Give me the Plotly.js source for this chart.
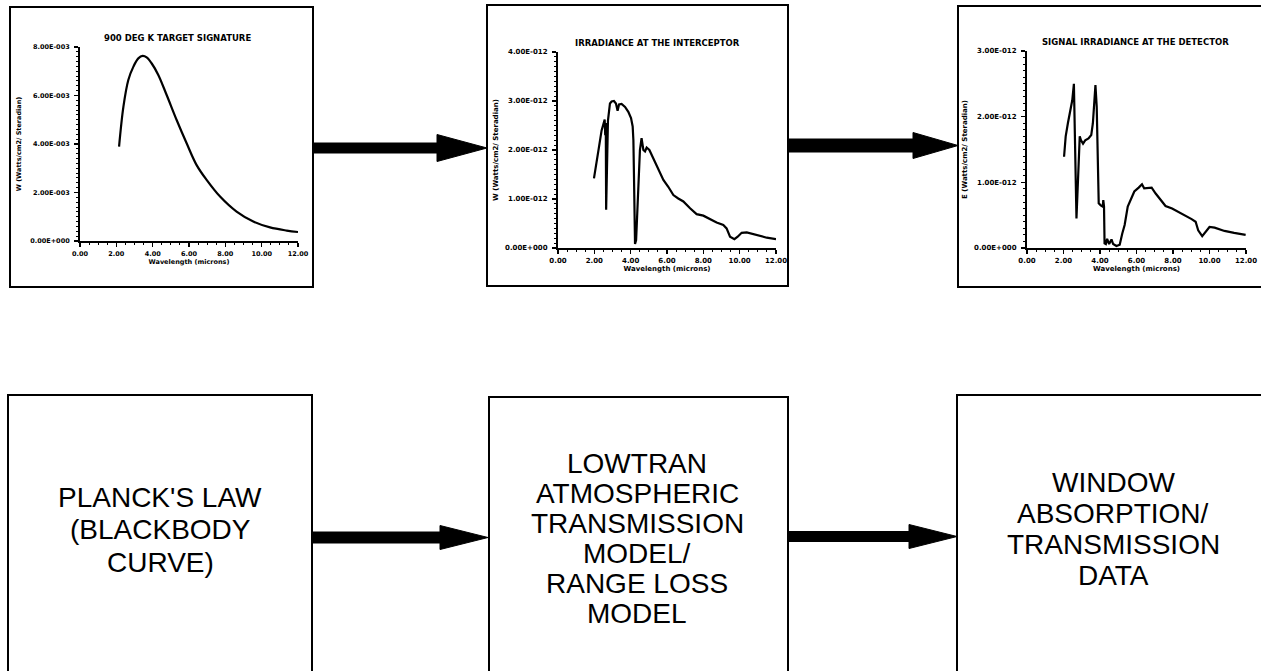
<!DOCTYPE html>
<html>
<head>
<meta charset="utf-8">
<script src="https://cdn.plot.ly/plotly-3.0.1.min.js"></script>
<style>html,body{margin:0;padding:0;background:#fff;}#chart{width:1261px;height:671px;}</style>
</head>
<body>
<div id="chart"></div>
<script>
// ---------------- data ----------------
const chartTitles = ["900 DEG K TARGET SIGNATURE", "IRRADIANCE AT THE INTERCEPTOR", "SIGNAL IRRADIANCE AT THE DETECTOR"];
const xTitle = "Wavelength (microns)";
const yTitles = ["W (Watts/cm2/ Steradian)", "W (Watts/cm2/ Steradian)", "E (Watts/cm2/ Steradian)"];

const xTickVals = [0, 2, 4, 6, 8, 10, 12];
const xTickText = ["0.00", "2.00", "4.00", "6.00", "8.00", "10.00", "12.00"];

const y1TickVals = [0, 2e-3, 4e-3, 6e-3, 8e-3];
const y1TickText = ["0.00E+000", "2.00E-003", "4.00E-003", "6.00E-003", "8.00E-003"];
const y2TickVals = [0, 1e-12, 2e-12, 3e-12, 4e-12];
const y2TickText = ["0.00E+000", "1.00E-012", "2.00E-012", "3.00E-012", "4.00E-012"];
const y3TickVals = [0, 1e-12, 2e-12, 3e-12];
const y3TickText = ["0.00E+000", "1.00E-012", "2.00E-012", "3.00E-012"];

// 900 K target signature
const wl1 = [2.15, 2.39, 2.66, 2.94, 3.21, 3.45, 3.67, 3.94, 4.31, 4.77, 5.32, 5.87, 6.42, 6.97, 7.71, 8.62, 9.54, 10.46, 11.38, 12.0];
const sig1 = [3.89e-3, 5.54e-3, 6.64e-3, 7.19e-3, 7.53e-3, 7.63e-3, 7.57e-3, 7.33e-3, 6.85e-3, 6.02e-3, 4.99e-3, 4.03e-3, 3.13e-3, 2.52e-3, 1.83e-3, 1.21e-3, 0.80e-3, 0.56e-3, 0.43e-3, 0.37e-3];

// irradiance at the interceptor
const wl2 = [1.98, 2.1, 2.25, 2.4, 2.52, 2.57, 2.6, 2.63, 2.65, 2.75, 2.86, 2.95, 3.08, 3.19, 3.28, 3.36, 3.5, 3.69, 3.87, 4.02, 4.11, 4.15, 4.18, 4.2, 4.24, 4.3, 4.37, 4.44, 4.51, 4.6, 4.7, 4.79, 4.88, 5.03, 5.25, 5.52, 5.8, 6.07, 6.35, 6.62, 6.9, 7.27, 7.63, 8.0, 8.37, 8.73, 9.1, 9.28, 9.47, 9.71, 9.89, 10.11, 10.39, 10.94, 11.49, 12.0];
const irr2 = [1.42e-12, 1.75e-12, 2.05e-12, 2.4e-12, 2.58e-12, 2.62e-12, 2.3e-12, 2.55e-12, 0.78e-12, 2.6e-12, 2.95e-12, 2.99e-12, 3.0e-12, 2.95e-12, 2.80e-12, 2.93e-12, 2.94e-12, 2.88e-12, 2.78e-12, 2.65e-12, 2.48e-12, 2.2e-12, 1.52e-12, 0.44e-12, 0.08e-12, 0.16e-12, 0.84e-12, 1.66e-12, 2.0e-12, 2.24e-12, 2.0e-12, 1.97e-12, 2.05e-12, 2.0e-12, 1.83e-12, 1.59e-12, 1.39e-12, 1.25e-12, 1.08e-12, 1.01e-12, 0.95e-12, 0.81e-12, 0.69e-12, 0.66e-12, 0.59e-12, 0.52e-12, 0.47e-12, 0.40e-12, 0.23e-12, 0.18e-12, 0.23e-12, 0.31e-12, 0.32e-12, 0.27e-12, 0.21e-12, 0.18e-12];

// signal irradiance at the detector
const wl3 = [2.03, 2.12, 2.24, 2.39, 2.48, 2.57, 2.65, 2.71, 2.89, 2.96, 3.07, 3.19, 3.37, 3.52, 3.61, 3.68, 3.75, 3.82, 3.87, 3.93, 4.04, 4.15, 4.18, 4.22, 4.25, 4.32, 4.39, 4.5, 4.63, 4.72, 4.9, 5.08, 5.22, 5.35, 5.52, 5.7, 5.88, 6.12, 6.3, 6.42, 6.6, 6.83, 7.05, 7.32, 7.59, 7.95, 8.3, 8.66, 9.02, 9.24, 9.38, 9.6, 9.78, 10.0, 10.28, 10.82, 11.35, 11.98];
const det3 = [1.39e-12, 1.70e-12, 1.90e-12, 2.10e-12, 2.25e-12, 2.50e-12, 1.29e-12, 0.45e-12, 1.70e-12, 1.64e-12, 1.59e-12, 1.64e-12, 1.67e-12, 1.72e-12, 1.90e-12, 2.15e-12, 2.48e-12, 2.15e-12, 1.39e-12, 0.68e-12, 0.65e-12, 0.63e-12, 0.73e-12, 0.63e-12, 0.07e-12, 0.06e-12, 0.14e-12, 0.06e-12, 0.13e-12, 0.06e-12, 0.03e-12, 0.05e-12, 0.22e-12, 0.35e-12, 0.63e-12, 0.76e-12, 0.86e-12, 0.92e-12, 0.97e-12, 0.91e-12, 0.91e-12, 0.92e-12, 0.83e-12, 0.73e-12, 0.64e-12, 0.60e-12, 0.55e-12, 0.49e-12, 0.44e-12, 0.40e-12, 0.27e-12, 0.18e-12, 0.24e-12, 0.32e-12, 0.31e-12, 0.26e-12, 0.23e-12, 0.20e-12];

// block-diagram labels
const boxLabelsA = ["PLANCK'S LAW", "(BLACKBODY", "CURVE)"];
const boxLabelsB = ["LOWTRAN", "ATMOSPHERIC", "TRANSMISSION", "MODEL/", "RANGE LOSS", "MODEL"];
const boxLabelsC = ["WINDOW", "ABSORPTION/", "TRANSMISSION", "DATA"];

// ---------------- layout helpers ----------------
const W = 1261, H = 671;
const px = x => x / W;
const py = y => 1 - y / H;
const BLACK = "#000";
const smallFont = size => ({family: "DejaVu Sans", size: size, color: BLACK, weight: "bold"});

function xAxis(x0, x1, anchor, fs) {
  return {
    domain: [px(x0), px(x1)], anchor: anchor, range: [0, 12],
    tickmode: "array", tickvals: xTickVals, ticktext: xTickText,
    showline: true, linecolor: BLACK, linewidth: 2, mirror: false,
    ticks: "outside", ticklen: 4, tickwidth: 1.5, tickcolor: BLACK,
    minor: {ticks: "outside", ticklen: 2, tickwidth: 1, tickcolor: BLACK, dtick: 0.5},
    showgrid: false, zeroline: false, fixedrange: true,
    tickfont: smallFont(fs), ticklabelstandoff: 1, ticklabeloverflow: "allow",
    title: {text: xTitle, font: smallFont(fs), standoff: 2}
  };
}
function yAxis(y0, y1, anchor, rmax, tv, tt, fs, standoff) {
  return {
    domain: [py(y0), py(y1)], anchor: anchor, range: [0, rmax],
    tickmode: "array", tickvals: tv, ticktext: tt,
    showline: true, linecolor: BLACK, linewidth: 2,
    ticks: "outside", ticklen: 4, tickwidth: 1.5, tickcolor: BLACK,
    minor: {ticks: "outside", ticklen: 2, tickwidth: 1, tickcolor: BLACK, dtick: tv[1] / 10},
    showgrid: false, zeroline: false, fixedrange: true,
    tickfont: smallFont(fs), ticklabelstandoff: 3, ticklabeloverflow: "allow",
    title: {text: "", font: smallFont(fs), standoff: standoff}
  };
}

const traces = [
  {x: wl1, y: sig1, xaxis: "x", yaxis: "y", type: "scatter", mode: "lines",
   line: {color: BLACK, width: 2.2, shape: "spline", smoothing: 1}, hoverinfo: "skip"},
  {x: wl2, y: irr2, xaxis: "x2", yaxis: "y2", type: "scatter", mode: "lines",
   line: {color: BLACK, width: 2.2}, hoverinfo: "skip"},
  {x: wl3, y: det3, xaxis: "x3", yaxis: "y3", type: "scatter", mode: "lines",
   line: {color: BLACK, width: 2.2}, hoverinfo: "skip", cliponaxis: false}
];

const ya1 = yAxis(241, 47, "x", 8e-3, y1TickVals, y1TickText, 6.5, 8);
ya1.title.text = yTitles[0];
const ya2 = yAxis(248, 52, "x2", 4e-12, y2TickVals, y2TickText, 7, 6);
ya2.title.text = yTitles[1];
const ya3 = yAxis(248, 51, "x3", 3e-12, y3TickVals, y3TickText, 7, 6);
ya3.title.text = yTitles[2];

// frames and arrows (pixel geometry -> paper)
function rect(x0, y0, x1, y1, w) {
  return {type: "rect", xref: "paper", yref: "paper", x0: px(x0), x1: px(x1), y0: py(y1), y1: py(y0),
          line: {color: BLACK, width: w}, fillcolor: "rgba(0,0,0,0)", layer: "above"};
}
function arrow(xs, xb, xt, yc, half, headHalf) {
  const d = "M" + px(xs) + "," + py(yc - half) + " L" + px(xb) + "," + py(yc - half) +
            " L" + px(xb) + "," + py(yc - headHalf) + " L" + px(xt) + "," + py(yc) +
            " L" + px(xb) + "," + py(yc + headHalf) + " L" + px(xb) + "," + py(yc + half) +
            " L" + px(xs) + "," + py(yc + half) + " Z";
  return {type: "path", xref: "paper", yref: "paper", path: d, fillcolor: BLACK,
          line: {color: BLACK, width: 1}, layer: "above"};
}

const shapes = [
  rect(10, 7, 313, 287, 2), rect(487, 5, 788, 286, 2), rect(958, 6, 1264, 287, 2),
  rect(8, 395, 312, 680, 2), rect(489, 397, 788, 680, 2), rect(957, 395, 1264, 680, 2),
  arrow(313, 437, 487, 148, 5, 13.5),
  arrow(788, 913, 958, 145.5, 6.5, 13),
  arrow(312, 440, 488, 537.5, 5.5, 12),
  arrow(788, 909, 957, 536.5, 5, 12)
];

const annotations = [];
function title(text, xc, yc, fs) {
  annotations.push({text: text, xref: "paper", yref: "paper", x: px(xc), y: py(yc),
    xanchor: "center", yanchor: "middle", showarrow: false, font: smallFont(fs)});
}
title(chartTitles[0], 177, 38, 8.5);
title(chartTitles[1], 657, 43, 8.5);
title(chartTitles[2], 1135, 42, 8.5);

function block(lines, xc, yFirst, step) {
  lines.forEach((t, i) => annotations.push({text: t, xref: "paper", yref: "paper",
    x: px(xc), y: py(yFirst + i * step), xanchor: "center", yanchor: "middle", showarrow: false,
    font: {family: "Liberation Sans", size: 28, color: BLACK}}));
}
block(boxLabelsA, 160, 497, 32.5);
block(boxLabelsB, 637, 463, 30);
block(boxLabelsC, 1113, 482, 31);

const layout = {
  width: W, height: H, margin: {l: 0, r: 0, t: 0, b: 0, pad: 0},
  paper_bgcolor: "#fff", plot_bgcolor: "rgba(0,0,0,0)", showlegend: false,
  xaxis: xAxis(80, 298, "y", 6.5), yaxis: ya1,
  xaxis2: xAxis(558, 776, "y2", 7), yaxis2: ya2,
  xaxis3: xAxis(1027, 1246, "y3", 7), yaxis3: ya3,
  shapes: shapes, annotations: annotations
};

Plotly.newPlot("chart", traces, layout, {staticPlot: true, displayModeBar: false});
</script>
</body>
</html>
